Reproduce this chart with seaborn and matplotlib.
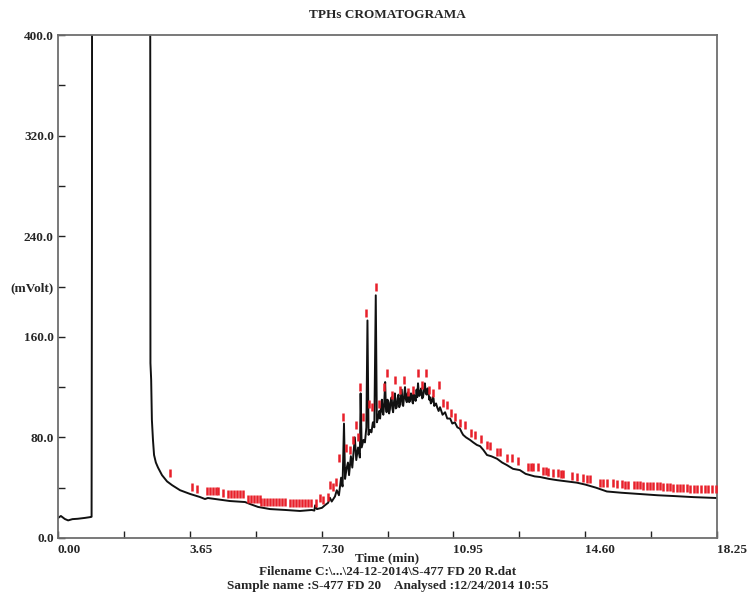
import numpy as np
import pandas as pd
import matplotlib
matplotlib.use("Agg")
import matplotlib.pyplot as plt
import seaborn as sns

# ---- data ----
# early baseline + solvent front (off-scale values are clipped by the axis)
early_time = [0.00, 0.08, 0.19, 0.28, 0.40, 0.55, 0.75, 0.91, 0.93, 0.94, 0.95, 1.20, 2.00, 2.50, 2.55,
              2.56, 2.58, 2.60, 2.63, 2.66, 2.71, 2.77, 2.88, 3.02, 3.16, 3.38, 3.66, 3.93, 4.07, 4.15,
              4.35, 4.76, 5.18, 5.32, 5.54, 5.87, 6.29, 6.70, 7.03, 7.10, 7.12, 7.17, 7.31, 7.39, 7.48]
early_mv = [15.9, 17.5, 15.1, 14.0, 15.0, 15.3, 16.0, 16.7, 16.9, 237.0, 900.0, 900.0, 900.0, 900.0, 600.0,
            139.0, 126.0, 94.0, 78.0, 66.0, 60.0, 56.0, 50.0, 45.0, 42.0, 38.0, 35.0, 32.6, 31.0, 31.8,
            31.0, 29.4, 28.6, 27.0, 24.7, 23.0, 22.3, 21.5, 22.3, 21.8, 26.0, 23.0, 24.0, 26.0, 28.0]
# hydrocarbon hump with peaks
hump_time = [7.53, 7.58, 7.67, 7.72, 7.78, 7.84, 7.88, 7.92, 7.95, 7.99, 8.03, 8.06, 8.11, 8.15, 8.22,
             8.26, 8.31, 8.36, 8.38, 8.41, 8.46, 8.50, 8.54, 8.57, 8.60, 8.64, 8.68, 8.72, 8.76, 8.80,
             8.83, 8.87, 8.895, 8.92, 8.945, 8.97, 8.99, 9.01, 9.035, 9.06, 9.08, 9.10, 9.125, 9.15,
             9.17, 9.19, 9.215, 9.24, 9.26, 9.28, 9.305, 9.33, 9.355, 9.38, 9.405, 9.43, 9.45, 9.47,
             9.495, 9.52, 9.54, 9.56, 9.585, 9.61, 9.635, 9.66, 9.68, 9.70, 9.725, 9.75, 9.775, 9.80,
             9.815, 9.83, 9.855, 9.88, 9.905, 9.93, 9.95, 9.97, 9.99, 10.01, 10.035, 10.06, 10.085,
             10.11, 10.135, 10.16, 10.185, 10.21, 10.235, 10.26, 10.28, 10.30, 10.325, 10.35, 10.375,
             10.40, 10.42, 10.44, 10.47, 10.50, 10.54, 10.58, 10.65, 10.72, 10.78, 10.86, 10.92, 10.99,
             11.06, 11.13, 11.18, 11.22, 11.30]
hump_mv = [32.0, 29.0, 33.0, 38.0, 34.0, 48.0, 41.0, 91.0, 47.0, 55.0, 60.0, 50.0, 65.0, 56.0, 80.0,
           62.0, 72.0, 64.0, 115.0, 72.0, 78.0, 76.0, 88.0, 173.0, 82.0, 86.0, 84.0, 92.0, 88.0, 193.0,
           92.0, 96.0, 101.0, 95.0, 104.0, 110.0, 100.0, 98.0, 108.0, 124.0, 104.0, 100.0, 110.0, 108.0,
           99.0, 102.0, 109.0, 112.0, 103.0, 100.0, 108.0, 115.0, 103.0, 104.0, 111.0, 114.0, 104.0, 106.0,
           112.0, 118.0, 106.0, 105.0, 113.0, 120.0, 110.0, 108.0, 115.0, 116.0, 108.0, 109.0, 115.0, 114.0,
           108.0, 107.0, 114.0, 112.0, 109.0, 118.0, 112.0, 123.0, 116.0, 113.0, 117.0, 119.0, 111.0,
           112.0, 118.0, 123.0, 115.0, 114.0, 119.0, 116.0, 110.0, 112.0, 107.0, 108.0, 112.0,
           111.0, 105.0, 106.0, 107.0, 104.0, 101.0, 104.0, 98.0, 100.0, 95.0, 95.0, 91.0, 92.0,
           88.0, 87.0, 84.0, 82.0, 80.0]
# decaying tail
tail_time = [11.41, 11.50, 11.60, 11.69, 11.78, 11.88, 12.00, 12.16, 12.30, 12.43, 12.60, 12.79, 12.95,
             13.07, 13.20, 13.35, 13.60, 13.82, 14.10, 14.37, 14.60, 14.90, 15.20, 15.60, 16.12, 16.60,
             17.03, 17.60, 18.25]
tail_mv = [78.0, 76.0, 74.0, 73.0, 70.0, 66.0, 65.0, 63.0, 60.0, 58.0, 55.0, 54.0, 51.0,
           50.0, 49.0, 48.5, 47.0, 46.0, 45.0, 44.0, 42.5, 40.0, 37.0, 36.0, 35.0, 34.0,
           33.4, 32.5, 31.8]

# red integration marks
mark_time = [3.10, 3.71, 3.85, 4.13, 4.20, 4.28, 4.37, 4.43, 4.57, 4.71, 4.79, 4.87, 4.96, 5.04, 5.12,
             5.26, 5.34, 5.43, 5.51, 5.59, 5.62, 5.70, 5.79, 5.87, 5.95, 6.04, 6.12, 6.20, 6.29,
             6.42, 6.51, 6.59, 6.68, 6.76, 6.84, 6.93, 7.01, 7.14, 7.26, 7.34, 7.47, 7.53, 7.62, 7.69,
             7.78, 7.90, 7.98, 8.09, 8.16, 8.24, 8.31, 8.37, 8.44, 8.52, 8.62, 8.70, 8.81, 8.90, 9.03,
             9.10, 9.24, 9.33, 9.47, 9.58, 9.70, 9.84, 9.98, 10.07, 10.19, 10.28, 10.39, 10.56, 10.67,
             10.76, 10.88, 10.99, 11.13, 11.27, 11.43, 11.55, 11.71, 11.87, 11.96, 12.15, 12.24, 12.43,
             12.56, 12.75, 13.02, 13.09, 13.16, 13.30, 13.44, 13.51, 13.58, 13.72, 13.85, 13.92, 13.99,
             14.23, 14.36, 14.55, 14.64, 14.73, 15.01, 15.10, 15.19, 15.38, 15.47, 15.61, 15.70, 15.79,
             15.94, 16.03, 16.12, 16.21, 16.30, 16.39, 16.49, 16.58, 16.67, 16.76, 16.86, 16.95, 17.04,
             17.13, 17.22, 17.32, 17.41, 17.50, 17.60, 17.69, 17.80, 17.92, 18.01, 18.10, 18.22]
mark_mv = [51.7, 40.5, 39.0, 37.4, 37.4, 37.4, 37.4, 37.4, 35.8, 35.0, 35.0, 35.0, 35.0, 35.0, 35.0,
           31.0, 31.0, 31.0, 31.0, 31.0, 29.0, 29.0, 29.0, 29.0, 29.0, 28.6, 28.6, 28.6, 28.6,
           27.8, 27.8, 27.8, 27.8, 27.8, 27.8, 27.8, 27.8, 28.0, 31.8, 30.0, 32.6, 42.0, 40.5, 44.8,
           64.0, 96.5, 71.6, 70.0, 78.0, 90.0, 80.0, 120.0, 96.5, 179.0, 106.5, 104.0, 200.0, 106.5, 120.0,
           131.0, 113.7, 125.6, 117.7, 125.6, 116.0, 117.7, 131.5, 121.7, 131.5, 117.7, 115.0, 121.7, 107.0,
           105.8, 99.6, 96.5, 91.2, 89.9, 83.7, 82.0, 78.5, 74.0, 73.0, 68.6, 68.6, 63.4,
           63.4, 61.5, 56.7, 56.5, 56.2, 56.2, 53.3, 53.0, 52.7, 51.4, 51.4, 51.2, 50.9,
           49.3, 48.3, 47.5, 47.2, 46.7, 44.0, 43.8, 43.5, 43.5, 43.2, 42.7, 42.4, 42.1,
           41.9, 41.9, 41.8, 41.6, 41.6, 41.6, 41.4, 41.3, 41.0, 40.8, 40.5, 40.3, 40.1,
           40.0, 39.8, 39.5, 39.4, 39.2, 39.1, 39.0, 38.8, 38.7, 38.7, 38.7, 38.7]

x_ticks = [0.0, 1.825, 3.65, 5.475, 7.30, 9.125, 10.95, 12.775, 14.60, 16.425, 18.25]
x_labels = ["0.00", "", "3.65", "", "7.30", "", "10.95", "", "14.60", "", "18.25"]
y_ticks = [0, 40, 80, 120, 160, 200, 240, 280, 320, 360, 400]
y_labels = ["0.0", "", "80.0", "", "160.0", "(mVolt)", "240.0", "", "320.0", "", "400.0"]

title = "TPHs CROMATOGRAMA"
xlabel = "Time (min)"
line2 = "Filename C:\\...\\24-12-2014\\S-477 FD 20 R.dat"
line3 = "Sample name :S-477 FD 20    Analysed :12/24/2014 10:55"

trace = pd.DataFrame({"t": early_time + hump_time + tail_time,
                      "mv": early_mv + hump_mv + tail_mv})
marks = pd.DataFrame({"t": mark_time, "mv": mark_mv})

sns.set_theme(style="white")
plt.rcParams["font.family"] = ["Liberation Serif", "DejaVu Serif"]
plt.rcParams["font.weight"] = "bold"

fig = plt.figure(figsize=(7.49, 5.94), dpi=100)
ax = fig.add_axes([58 / 749, 56 / 594, (717 - 58) / 749, (538 - 35) / 594])

sns.lineplot(data=trace, x="t", y="mv", ax=ax, color="#111111", linewidth=1.4,
             estimator=None, sort=False)
sns.scatterplot(data=marks, x="t", y="mv", ax=ax, marker="|", s=30, linewidth=1.8,
                color="#e8202a", zorder=3)

ax.set_xlim(0, 18.25)
ax.set_ylim(0, 400)
ax.set_xticks(x_ticks)
ax.set_xticklabels(x_labels, ha="left", fontsize=9.5, fontweight="bold")
ax.set_yticks(y_ticks)
ax.set_yticklabels(y_labels, fontsize=9.5, fontweight="bold")
ax.tick_params(axis="both", direction="in", length=5, width=1, color="#222222", pad=3)
ax.tick_params(axis="x", pad=4, bottom=True)
ax.tick_params(axis="y", left=True)
ax.set_xlabel("")
ax.set_ylabel("")
for sp in ax.spines.values():
    sp.set_color("#6e6e6e")
    sp.set_linewidth(1.3)

cx = (58 + 717) / 2 / 749
fig.text(cx, 1 - 15 / 594, title, ha="center", va="center", fontsize=9.5, fontweight="bold")
fig.text(cx, 1 - 558 / 594, xlabel, ha="center", va="center", fontsize=9.5, fontweight="bold")
fig.text(cx, 1 - 572 / 594, line2, ha="center", va="center", fontsize=9.5, fontweight="bold")
fig.text(cx, 1 - 586 / 594, line3, ha="center", va="center", fontsize=9.5, fontweight="bold")

fig.savefig("out.png", dpi=100)
